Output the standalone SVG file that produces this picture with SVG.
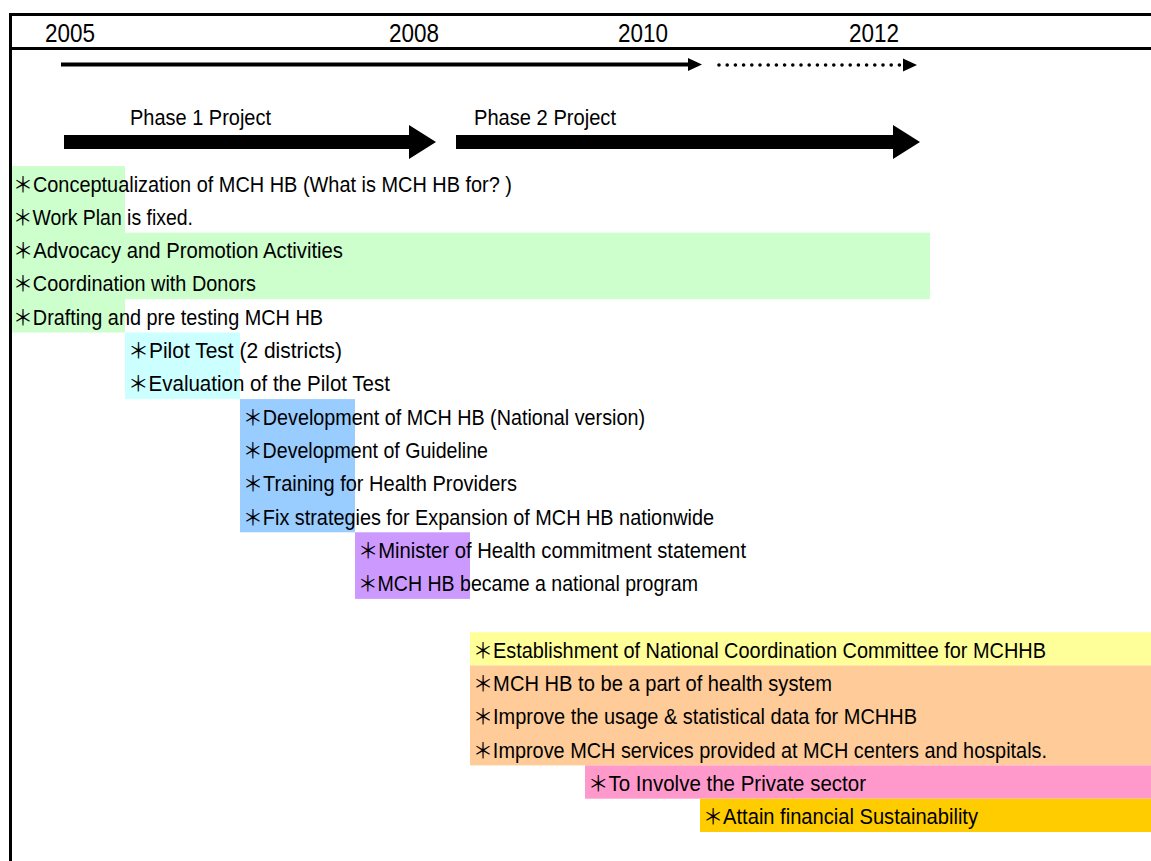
<svg xmlns="http://www.w3.org/2000/svg" width="1151" height="861" viewBox="0 0 1151 861">
  <style>
    .frame { stroke: #000; stroke-width: 3; fill: none; }
    .year { font-family: "Liberation Sans", "Noto Sans CJK JP", sans-serif; font-size: 26px; fill: #000; }
    .phase { font-family: "Liberation Sans", "Noto Sans CJK JP", sans-serif; font-size: 21.5px; fill: #000; }
    .item { font-family: "Liberation Sans", "Noto Sans CJK JP", sans-serif; font-size: 21.5px; fill: #000; }
    .green { fill: #CCFFCC; }
    .cyan { fill: #CCFFFF; }
    .blue { fill: #99CCFF; }
    .purple { fill: #CC99FF; }
    .yellow { fill: #FFFF99; }
    .orange { fill: #FFCC99; }
    .pink { fill: #FF99CC; }
    .gold { fill: #FFCC00; }
  </style>

  <rect x="0" y="0" width="1151" height="861" fill="#fff"/>

  <!-- coloured period bands -->
  <g id="bands">
    <rect class="green" x="10" y="166" width="115" height="166.5"/>
    <rect class="green" x="125" y="232.6" width="805" height="66.6"/>
    <rect class="cyan" x="125" y="332.5" width="115" height="66.6"/>
    <rect class="blue" x="240" y="399.1" width="115" height="133.2"/>
    <rect class="purple" x="355" y="532.3" width="115" height="66.6"/>
    <rect class="yellow" x="470" y="632.2" width="681" height="33.3"/>
    <rect class="orange" x="470" y="665.5" width="681" height="99.9"/>
    <rect class="pink" x="585" y="765.4" width="566" height="33.3"/>
    <rect class="gold" x="700" y="798.7" width="451" height="33.3"/>
  </g>

  <!-- header frame -->
  <g id="frame">
    <line class="frame" x1="10.5" y1="14.5" x2="1151" y2="14.5"/>
    <line class="frame" x1="10.5" y1="48.5" x2="1151" y2="48.5"/>
    <line class="frame" x1="10.5" y1="13" x2="10.5" y2="861"/>
  </g>

  <!-- year axis -->
  <g id="years">
    <text class="year" x="45" y="42" textLength="50" lengthAdjust="spacingAndGlyphs">2005</text>
    <text class="year" x="389" y="42" textLength="50" lengthAdjust="spacingAndGlyphs">2008</text>
    <text class="year" x="618" y="42" textLength="50" lengthAdjust="spacingAndGlyphs">2010</text>
    <text class="year" x="849" y="42" textLength="50" lengthAdjust="spacingAndGlyphs">2012</text>
  </g>

  <!-- timeline and phase arrows -->
  <g id="connectors">
    <line x1="61" y1="64.5" x2="690" y2="64.5" stroke="#000" stroke-width="4"/>
    <polygon points="688,58 702,64.5 688,71" fill="#000"/>
    <line x1="719" y1="65" x2="902" y2="65" stroke="#000" stroke-width="3.6" stroke-linecap="round" stroke-dasharray="0 8.2"/>
    <polygon points="903,58.5 917,65 903,71.5" fill="#000"/>
    <polygon points="64,135 409,135 409,125 436,142 409,159 409,149 64,149" fill="#000"/>
    <polygon points="456,135 893,135 893,125 920,142 893,159 893,149 456,149" fill="#000"/>
  </g>

  <g id="phase1-label">
    <text class="phase" x="130" y="125" textLength="141" lengthAdjust="spacingAndGlyphs">Phase 1 Project</text>
  </g>
  <g id="phase2-label">
    <text class="phase" x="474" y="125" textLength="142" lengthAdjust="spacingAndGlyphs">Phase 2 Project</text>
  </g>

  <!-- activity items -->
  <g id="item-conceptualization"><text class="item" x="13" y="191.5" textLength="499" lengthAdjust="spacingAndGlyphs">＊Conceptualization of MCH HB (What is MCH HB for? )</text></g>
  <g id="item-work-plan"><text class="item" x="13" y="224.8" textLength="180" lengthAdjust="spacingAndGlyphs">＊Work Plan is fixed.</text></g>
  <g id="item-advocacy"><text class="item" x="13" y="258.1" textLength="330" lengthAdjust="spacingAndGlyphs">＊Advocacy and Promotion Activities</text></g>
  <g id="item-donors"><text class="item" x="13" y="291.4" textLength="243" lengthAdjust="spacingAndGlyphs">＊Coordination with Donors</text></g>
  <g id="item-drafting"><text class="item" x="13" y="324.7" textLength="310" lengthAdjust="spacingAndGlyphs">＊Drafting and pre testing MCH HB</text></g>
  <g id="item-pilot"><text class="item" x="128" y="358" textLength="214" lengthAdjust="spacingAndGlyphs">＊Pilot Test (2 districts)</text></g>
  <g id="item-evaluation"><text class="item" x="128" y="391.3" textLength="262" lengthAdjust="spacingAndGlyphs">＊Evaluation of the Pilot Test</text></g>
  <g id="item-national-version"><text class="item" x="243" y="424.6" textLength="402" lengthAdjust="spacingAndGlyphs">＊Development of MCH HB (National version)</text></g>
  <g id="item-guideline"><text class="item" x="243" y="457.9" textLength="245" lengthAdjust="spacingAndGlyphs">＊Development of Guideline</text></g>
  <g id="item-training"><text class="item" x="243" y="491.2" textLength="274" lengthAdjust="spacingAndGlyphs">＊Training for Health Providers</text></g>
  <g id="item-strategies"><text class="item" x="243" y="524.5" textLength="471" lengthAdjust="spacingAndGlyphs">＊Fix strategies for Expansion of MCH HB nationwide</text></g>
  <g id="item-minister"><text class="item" x="358" y="557.8" textLength="388" lengthAdjust="spacingAndGlyphs">＊Minister of Health commitment statement</text></g>
  <g id="item-national-program"><text class="item" x="358" y="591.1" textLength="340" lengthAdjust="spacingAndGlyphs">＊MCH HB became a national program</text></g>
  <g id="item-committee"><text class="item" x="473" y="657.7" textLength="573" lengthAdjust="spacingAndGlyphs">＊Establishment of National Coordination Committee for MCHHB</text></g>
  <g id="item-health-system"><text class="item" x="473" y="691" textLength="359" lengthAdjust="spacingAndGlyphs">＊MCH HB to be a part of health system</text></g>
  <g id="item-statistics"><text class="item" x="473" y="724.3" textLength="444" lengthAdjust="spacingAndGlyphs">＊Improve the usage &amp; statistical data for MCHHB</text></g>
  <g id="item-services"><text class="item" x="473" y="757.6" textLength="574" lengthAdjust="spacingAndGlyphs">＊Improve MCH services provided at MCH centers and hospitals.</text></g>
  <g id="item-private"><text class="item" x="588" y="790.9" textLength="278" lengthAdjust="spacingAndGlyphs">＊To Involve the Private sector</text></g>
  <g id="item-sustainability"><text class="item" x="703" y="824.2" textLength="275" lengthAdjust="spacingAndGlyphs">＊Attain financial Sustainability</text></g>
</svg>
